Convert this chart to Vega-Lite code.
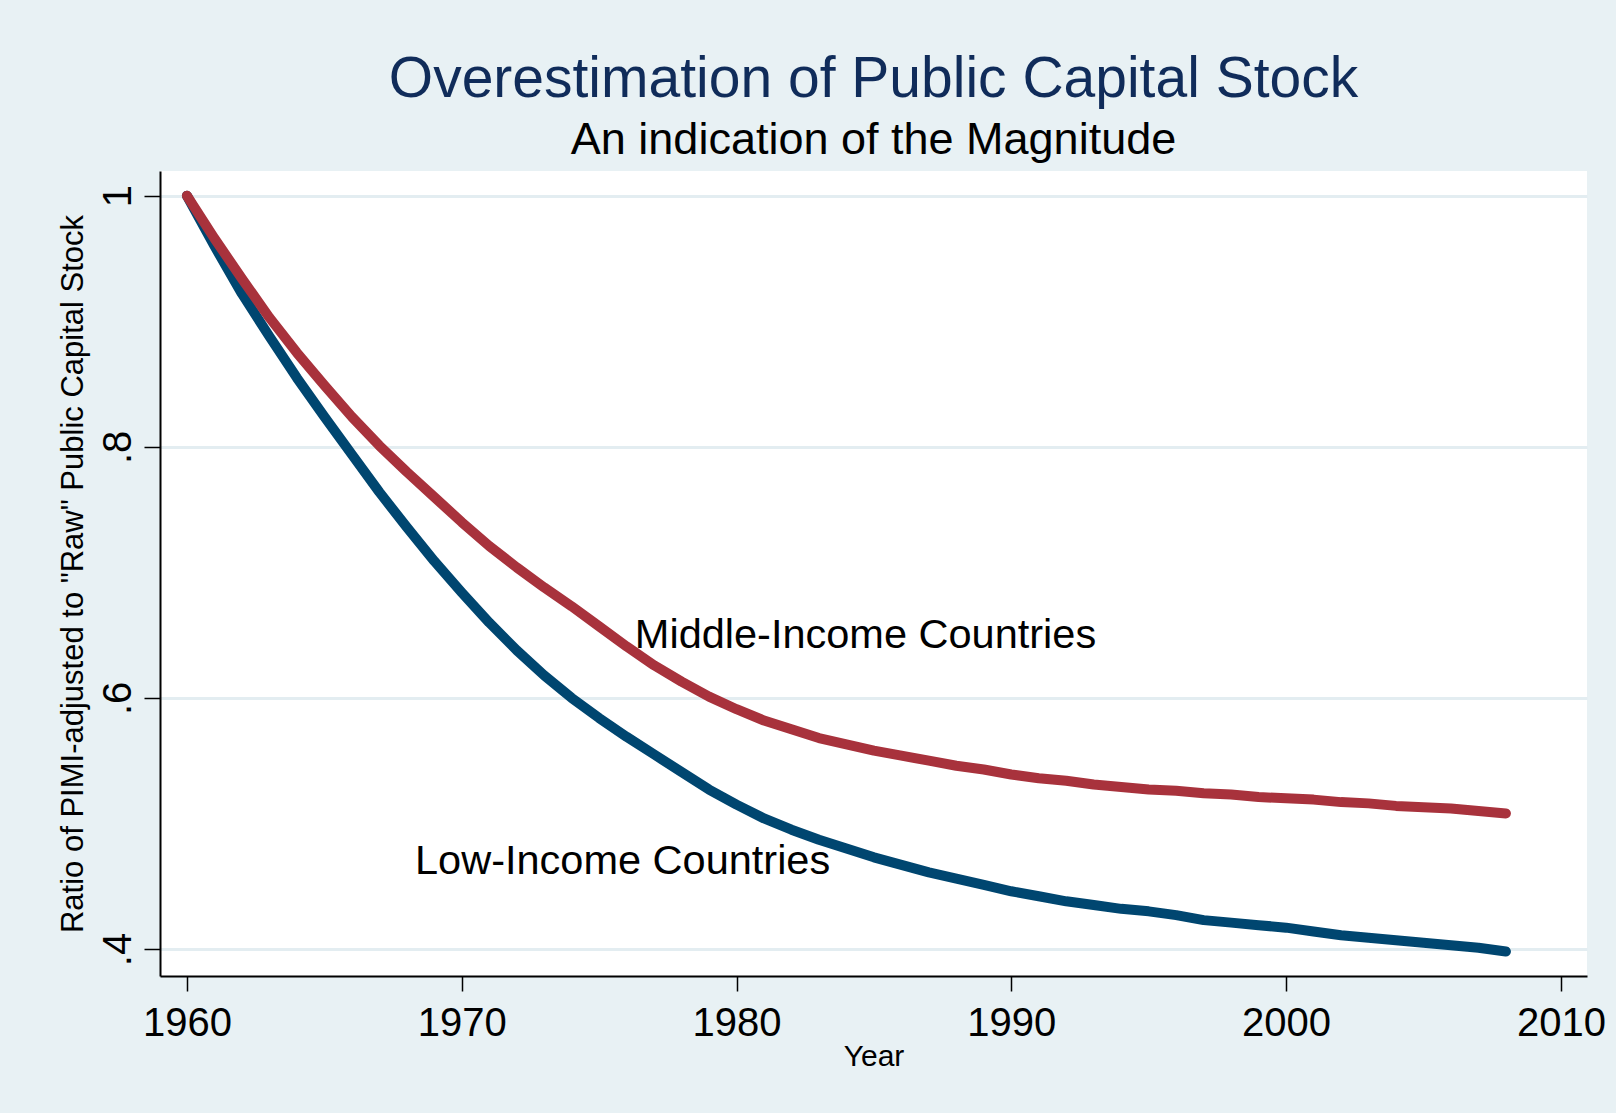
{
  "$schema": "https://vega.github.io/schema/vega-lite/v6.json",
  "width": 1427,
  "height": 805,
  "autosize": {"type": "none"},
  "padding": {"left": 160, "top": 171, "right": 29, "bottom": 137},
  "background": "#E8F1F4",
  "config": {
    "font": "Liberation Sans",
    "view": {"fill": "white", "stroke": null},
    "axis": {"domainColor": "black", "domainWidth": 2, "tickColor": "black", "tickWidth": 1.5, "labelColor": "black", "titleColor": "black", "labelFont": "Liberation Sans", "titleFont": "Liberation Sans", "titleFontWeight": "normal"}
  },
  "title": {
    "text": "Overestimation of Public Capital Stock",
    "subtitle": "An indication of the Magnitude",
    "fontSize": 57,
    "fontWeight": "normal",
    "color": "#102C5A",
    "subtitleFontSize": 45,
    "subtitleColor": "black",
    "subtitleFont": "Liberation Sans",
    "subtitlePadding": 9,
    "offset": 7,
    "anchor": "middle"
  },
  "datasets": {
    "series": [
      {"year": 1960, "series": "Low", "ratio": 1.000},
      {"year": 1961, "series": "Low", "ratio": 0.960},
      {"year": 1962, "series": "Low", "ratio": 0.922},
      {"year": 1963, "series": "Low", "ratio": 0.888},
      {"year": 1964, "series": "Low", "ratio": 0.855},
      {"year": 1965, "series": "Low", "ratio": 0.824},
      {"year": 1966, "series": "Low", "ratio": 0.794},
      {"year": 1967, "series": "Low", "ratio": 0.764},
      {"year": 1968, "series": "Low", "ratio": 0.736},
      {"year": 1969, "series": "Low", "ratio": 0.709},
      {"year": 1970, "series": "Low", "ratio": 0.684},
      {"year": 1971, "series": "Low", "ratio": 0.660},
      {"year": 1972, "series": "Low", "ratio": 0.638},
      {"year": 1973, "series": "Low", "ratio": 0.618},
      {"year": 1974, "series": "Low", "ratio": 0.600},
      {"year": 1975, "series": "Low", "ratio": 0.584},
      {"year": 1976, "series": "Low", "ratio": 0.569},
      {"year": 1977, "series": "Low", "ratio": 0.555},
      {"year": 1978, "series": "Low", "ratio": 0.541},
      {"year": 1979, "series": "Low", "ratio": 0.527},
      {"year": 1980, "series": "Low", "ratio": 0.515},
      {"year": 1981, "series": "Low", "ratio": 0.504},
      {"year": 1982, "series": "Low", "ratio": 0.495},
      {"year": 1983, "series": "Low", "ratio": 0.487},
      {"year": 1984, "series": "Low", "ratio": 0.480},
      {"year": 1985, "series": "Low", "ratio": 0.473},
      {"year": 1986, "series": "Low", "ratio": 0.467},
      {"year": 1987, "series": "Low", "ratio": 0.461},
      {"year": 1988, "series": "Low", "ratio": 0.456},
      {"year": 1989, "series": "Low", "ratio": 0.451},
      {"year": 1990, "series": "Low", "ratio": 0.446},
      {"year": 1991, "series": "Low", "ratio": 0.442},
      {"year": 1992, "series": "Low", "ratio": 0.438},
      {"year": 1993, "series": "Low", "ratio": 0.435},
      {"year": 1994, "series": "Low", "ratio": 0.432},
      {"year": 1995, "series": "Low", "ratio": 0.430},
      {"year": 1996, "series": "Low", "ratio": 0.427},
      {"year": 1997, "series": "Low", "ratio": 0.423},
      {"year": 1998, "series": "Low", "ratio": 0.421},
      {"year": 1999, "series": "Low", "ratio": 0.419},
      {"year": 2000, "series": "Low", "ratio": 0.417},
      {"year": 2001, "series": "Low", "ratio": 0.414},
      {"year": 2002, "series": "Low", "ratio": 0.411},
      {"year": 2003, "series": "Low", "ratio": 0.409},
      {"year": 2004, "series": "Low", "ratio": 0.407},
      {"year": 2005, "series": "Low", "ratio": 0.405},
      {"year": 2006, "series": "Low", "ratio": 0.403},
      {"year": 2007, "series": "Low", "ratio": 0.401},
      {"year": 2008, "series": "Low", "ratio": 0.398},
      {"year": 1960, "series": "Middle", "ratio": 1.000},
      {"year": 1961, "series": "Middle", "ratio": 0.966},
      {"year": 1962, "series": "Middle", "ratio": 0.934},
      {"year": 1963, "series": "Middle", "ratio": 0.903},
      {"year": 1964, "series": "Middle", "ratio": 0.875},
      {"year": 1965, "series": "Middle", "ratio": 0.849},
      {"year": 1966, "series": "Middle", "ratio": 0.824},
      {"year": 1967, "series": "Middle", "ratio": 0.801},
      {"year": 1968, "series": "Middle", "ratio": 0.780},
      {"year": 1969, "series": "Middle", "ratio": 0.760},
      {"year": 1970, "series": "Middle", "ratio": 0.740},
      {"year": 1971, "series": "Middle", "ratio": 0.721},
      {"year": 1972, "series": "Middle", "ratio": 0.704},
      {"year": 1973, "series": "Middle", "ratio": 0.688},
      {"year": 1974, "series": "Middle", "ratio": 0.673},
      {"year": 1975, "series": "Middle", "ratio": 0.657},
      {"year": 1976, "series": "Middle", "ratio": 0.641},
      {"year": 1977, "series": "Middle", "ratio": 0.626},
      {"year": 1978, "series": "Middle", "ratio": 0.613},
      {"year": 1979, "series": "Middle", "ratio": 0.601},
      {"year": 1980, "series": "Middle", "ratio": 0.591},
      {"year": 1981, "series": "Middle", "ratio": 0.582},
      {"year": 1982, "series": "Middle", "ratio": 0.575},
      {"year": 1983, "series": "Middle", "ratio": 0.568},
      {"year": 1984, "series": "Middle", "ratio": 0.563},
      {"year": 1985, "series": "Middle", "ratio": 0.558},
      {"year": 1986, "series": "Middle", "ratio": 0.554},
      {"year": 1987, "series": "Middle", "ratio": 0.550},
      {"year": 1988, "series": "Middle", "ratio": 0.546},
      {"year": 1989, "series": "Middle", "ratio": 0.543},
      {"year": 1990, "series": "Middle", "ratio": 0.539},
      {"year": 1991, "series": "Middle", "ratio": 0.536},
      {"year": 1992, "series": "Middle", "ratio": 0.534},
      {"year": 1993, "series": "Middle", "ratio": 0.531},
      {"year": 1994, "series": "Middle", "ratio": 0.529},
      {"year": 1995, "series": "Middle", "ratio": 0.527},
      {"year": 1996, "series": "Middle", "ratio": 0.526},
      {"year": 1997, "series": "Middle", "ratio": 0.524},
      {"year": 1998, "series": "Middle", "ratio": 0.523},
      {"year": 1999, "series": "Middle", "ratio": 0.521},
      {"year": 2000, "series": "Middle", "ratio": 0.520},
      {"year": 2001, "series": "Middle", "ratio": 0.519},
      {"year": 2002, "series": "Middle", "ratio": 0.517},
      {"year": 2003, "series": "Middle", "ratio": 0.516},
      {"year": 2004, "series": "Middle", "ratio": 0.514},
      {"year": 2005, "series": "Middle", "ratio": 0.513},
      {"year": 2006, "series": "Middle", "ratio": 0.512},
      {"year": 2007, "series": "Middle", "ratio": 0.510},
      {"year": 2008, "series": "Middle", "ratio": 0.508}
    ],
    "labels": [
      {"year": 1976.3, "ratio": 0.6394, "label": "Middle-Income Countries"},
      {"year": 1968.3, "ratio": 0.4595, "label": "Low-Income Countries"}
    ]
  },
  "encoding": {
    "x": {
      "field": "year",
      "type": "quantitative",
      "scale": {"domain": [1959.02, 2010.95], "nice": false, "zero": false},
      "axis": {
        "title": "Year",
        "values": [1960, 1970, 1980, 1990, 2000, 2010],
        "format": "d",
        "grid": false,
        "tickSize": 15,
        "labelFontSize": 40,
        "labelPadding": 12,
        "labelFlush": false,
        "labelOverlap": false,
        "titleFontSize": 30,
        "titlePadding": -2
      }
    },
    "y": {
      "field": "ratio",
      "type": "quantitative",
      "scale": {"domain": [0.3785, 1.0197], "nice": false, "zero": false},
      "axis": {
        "title": "Ratio of PIMI-adjusted to \"Raw\" Public Capital Stock",
        "values": [0.4, 0.6, 0.8, 1],
        "labelExpr": "datum.value == 1 ? '1' : replace(format(datum.value, '.1f'), '0.', '.')",
        "grid": true,
        "gridColor": "#E3EDF1",
        "gridWidth": 3,
        "tickSize": 16,
        "labelAngle": -90,
        "labelAlign": "center",
        "labelBaseline": "alphabetic",
        "labelFontSize": 40,
        "labelPadding": 14,
        "labelOverlap": false,
        "titleFontSize": 31,
        "titlePadding": 9
      }
    }
  },
  "layer": [
    {
      "data": {"name": "series"},
      "transform": [{"filter": "datum.series == 'Low'"}],
      "mark": {"type": "line", "color": "#004670", "strokeWidth": 10, "strokeCap": "round", "strokeJoin": "round"}
    },
    {
      "data": {"name": "series"},
      "transform": [{"filter": "datum.series == 'Middle'"}],
      "mark": {"type": "line", "color": "#A8323C", "strokeWidth": 10, "strokeCap": "round", "strokeJoin": "round"}
    },
    {
      "data": {"name": "labels"},
      "mark": {"type": "text", "align": "left", "baseline": "alphabetic", "fontSize": 41.5, "color": "black", "font": "Liberation Sans"},
      "encoding": {"text": {"field": "label"}}
    }
  ]
}
